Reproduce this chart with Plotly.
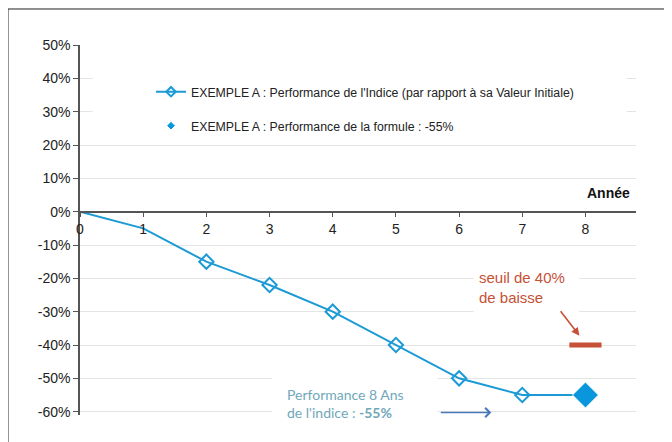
import plotly.graph_objects as go

# ── data ──────────────────────────────────────────────────────
annees = [0, 1, 2, 3, 4, 5, 6, 7, 8]
perf_indice = [0.0, -0.05, -0.15, -0.22, -0.30, -0.40, -0.50, -0.55, -0.55]
taille_marqueurs = [0, 0, 11, 11, 11, 11, 11, 11, 0]   # open diamonds only on years 2..7

annee_formule = [8, None, None]
perf_formule = [-0.55, None, None]
taille_formule = [20, 0, 0]

annee_seuil = [8]
seuil_baisse = [-0.40]

y_ticks = [0.5, 0.4, 0.3, 0.2, 0.1, 0.0, -0.1, -0.2, -0.3, -0.4, -0.5, -0.6]
y_labels = ["50%", "40%", "30%", "20%", "10%", "0%", "-10%", "-20%", "-30%",
            "-40%", "-50%", "-60%"]

BLUE = "#1b9ad6"
RED = "#c65136"
GRID = "#e4e4e4"
AXIS = "#555555"

fig = go.Figure()

fig.add_trace(go.Scatter(
    x=annees, y=perf_indice, mode="lines+markers",
    name="EXEMPLE A : Performance de l'Indice (par rapport à sa Valeur Initiale)",
    line=dict(color=BLUE, width=2),
    marker=dict(symbol="diamond-open", size=taille_marqueurs, color=BLUE, opacity=1,
                line=dict(width=2, color=BLUE)),
    legendgroup="a",
))
fig.add_trace(go.Scatter(
    x=annee_formule, y=perf_formule, mode="markers",
    name="EXEMPLE A : Performance de la formule : -55%",
    marker=dict(symbol="diamond", size=taille_formule, color="#0a96dc", opacity=1),
    legendgroup="b",
))
fig.add_trace(go.Scatter(
    x=annee_seuil, y=seuil_baisse, mode="markers", showlegend=False,
    marker=dict(symbol="line-ew", size=23, line=dict(width=5, color=RED)),
))

# white covers behind the texts (hide gridlines like the original)
covers = [(0.2, 8.65, 0.25, 0.45), (6.23, 7.9, -0.165, -0.32), (3.04, 5.66, -0.475, -0.62)]
for x0, x1, y0, y1 in covers:
    fig.add_shape(type="rect", xref="x", yref="y", x0=x0, x1=x1, y0=y0, y1=y1,
                  fillcolor="white", line=dict(width=0), layer="above")

# outer frame
fig.add_shape(type="rect", xref="paper", yref="paper",
              x0=-0.1295, x1=1.3, y0=-0.3, y1=1.0973,
              line=dict(color="#222222", width=1), fillcolor="rgba(0,0,0,0)")

fig.add_annotation(x=8.73, y=0.057, xref="x", yref="y", text="<b>Année</b>",
                   showarrow=False, xanchor="right", font=dict(size=14, color="#111"))
fig.add_annotation(x=6.29, y=-0.226, xref="x", yref="y",
                   text="seuil de 40%<br>de baisse", align="left",
                   showarrow=False, xanchor="left", font=dict(size=15, color=RED))
fig.add_annotation(x=7.905, y=-0.372, xref="x", yref="y", text="", showarrow=True,
                   ax=-20, ay=-26, arrowhead=2, arrowsize=1, arrowwidth=1.6, arrowcolor=RED)
fig.add_annotation(x=3.24, y=-0.5755, xref="x", yref="y",
                   text="Performance 8 Ans<br>de l'indice : <b>-55%</b>", align="left",
                   showarrow=False, xanchor="left",
                   font=dict(size=14, color="#70a8ba", family="Lato"))
fig.add_annotation(x=6.51, y=-0.6025, xref="x", yref="y", text="", showarrow=True,
                   ax=-52, ay=0, arrowhead=4, arrowsize=1.3, arrowwidth=1.4,
                   arrowcolor="#4a78b8")

fig.update_layout(
    width=672, height=442,
    margin=dict(l=72, r=44, t=37, b=35),
    paper_bgcolor="white", plot_bgcolor="white",
    font=dict(family="Liberation Sans, Arial", size=14, color="#222"),
    showlegend=True,
    legend=dict(x=0.1277, y=0.913, xanchor="left", yanchor="top",
                font=dict(size=12.3, color="#222"), bgcolor="rgba(0,0,0,0)",
                traceorder="grouped", tracegroupgap=15),
    xaxis=dict(range=[0, 8.8], tickvals=annees, ticks="outside", ticklen=5,
               tickcolor=AXIS, showline=True, linecolor=AXIS, linewidth=1.5,
               showgrid=False, zeroline=False, anchor="free",
               position=0.61 / 1.11, tickfont=dict(size=14, color="#222")),
    yaxis=dict(range=[-0.61, 0.5], tickvals=y_ticks, ticktext=y_labels,
               ticks="outside", ticklen=5, tickcolor=AXIS, showline=True,
               linecolor=AXIS, linewidth=1.5, gridcolor=GRID, zeroline=False,
               tickfont=dict(size=14, color="#222")),
)

fig.write_html("out.html")
